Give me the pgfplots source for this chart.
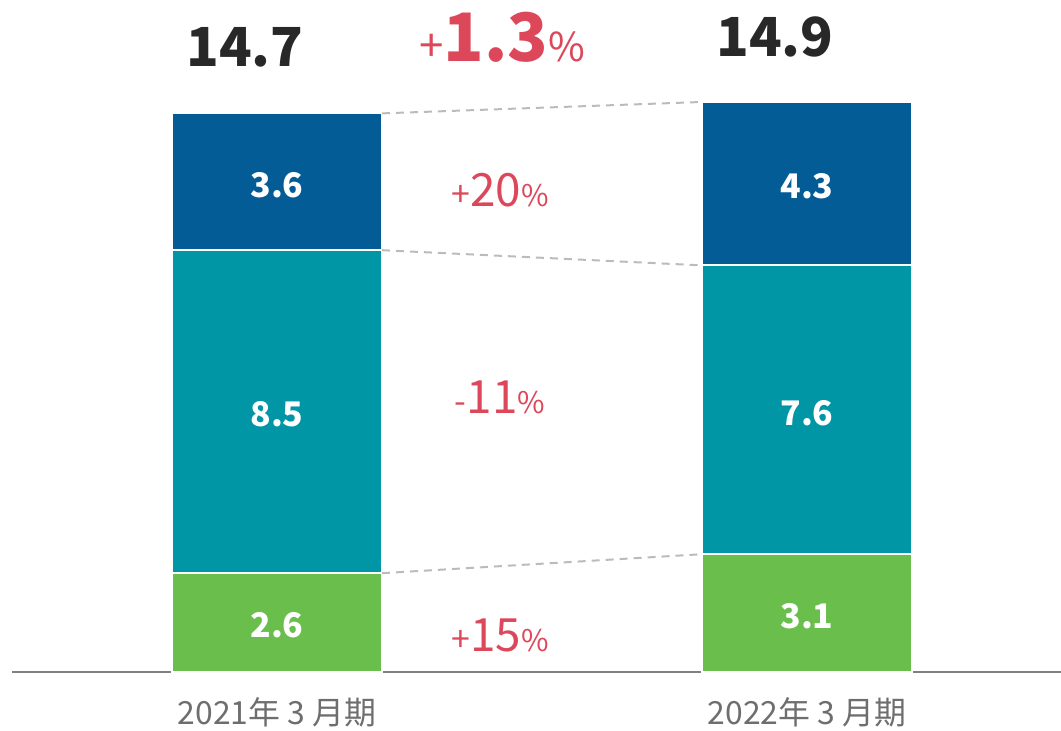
\documentclass[border=0pt]{standalone}
\usepackage{pgfplots}
\pgfplotsset{compat=1.18}
\usepackage{fontspec}
\setmainfont{Noto Sans CJK JP}
\definecolor{cblue}{RGB}{4,92,150}
\definecolor{cteal}{RGB}{0,150,165}
\definecolor{cgreen}{RGB}{106,190,75}
\definecolor{cred}{RGB}{220,72,90}
\definecolor{cdark}{RGB}{40,40,40}
\definecolor{cgray}{RGB}{110,110,110}
\definecolor{cline}{RGB}{128,128,128}
\definecolor{cdash}{RGB}{187,187,187}
\newcommand{\fs}[1]{\fontsize{#1}{#1}\selectfont}
\begin{document}
\begin{tikzpicture}[x=1bp,y=1bp]
\path[use as bounding box] (0,0) rectangle (1061,731);
\pgfplotsset{base/.style={scale only axis, width=1049bp, height=672bp,
  at={(12bp,59bp)}, anchor=south west, xmin=12, xmax=1061,
  ymin=0, ymax=17.6842, clip=false}}
\begin{axis}[base, ybar stacked, bar width=210bp,
  axis y line=none, axis x line*=bottom,
  x axis line style={cline, line width=2bp, -},
  xtick={277,807}, xticklabels={2021年 3 月期, 2022年 3 月期},
  major tick length=0,
  xticklabel style={anchor=base, yshift=-53bp, font=\fs{32}, text=cgray}]
\addplot[fill=cgreen, draw=white, line width=2bp] coordinates {(277,2.6) (807,3.1)};
\addplot[fill=cteal, draw=white, line width=2bp] coordinates {(277,8.5) (807,7.6)};
\addplot[fill=cblue, draw=white, line width=2bp] coordinates {(277,3.6) (807,4.3)};
\end{axis}
\begin{axis}[base, axis lines=none, ticks=none]
\addplot[cdash, line width=2bp, dash pattern=on 8bp off 6bp] coordinates {(382,14.7) (702,15.0)};
\addplot[cdash, line width=2bp, dash pattern=on 8bp off 6bp] coordinates {(382,11.1) (702,10.7)};
\addplot[cdash, line width=2bp, dash pattern=on 8bp off 6bp] coordinates {(382,2.6) (702,3.1)};
\node[text=white, font=\fs{34}\bfseries, yshift=-3bp] at (axis cs:277,1.3) {2.6};
\node[text=white, font=\fs{34}\bfseries, yshift=-3bp] at (axis cs:277,6.85) {8.5};
\node[text=white, font=\fs{34}\bfseries, yshift=-3bp] at (axis cs:277,12.9) {3.6};
\node[text=white, font=\fs{34}\bfseries, yshift=-3bp] at (axis cs:807,1.55) {3.1};
\node[text=white, font=\fs{34}\bfseries, yshift=-3bp] at (axis cs:807,6.9) {7.6};
\node[text=white, font=\fs{34}\bfseries, yshift=-3bp] at (axis cs:807,12.85) {4.3};
\end{axis}
\node[anchor=base, text=cdark, font=\fs{54}\bfseries] at (245,664) {14.7};
\node[anchor=base, text=cdark, font=\fs{54}\bfseries] at (775,674) {14.9};
\node[anchor=base, text=cred, inner sep=0pt] at (502,669) {{\fs{44}+}{\fs{67}\bfseries 1.3}{\fs{40}\%}};
\node[anchor=base, text=cred, inner sep=0pt] at (500,524) {{\fs{34}+}{\fs{46}20}{\fs{30}\%}};
\node[anchor=base, text=cred, inner sep=0pt] at (500,317) {{\fs{34}-}{\fs{46}11}{\fs{30}\%}};
\node[anchor=base, text=cred, inner sep=0pt] at (500,79) {{\fs{34}+}{\fs{46}15}{\fs{30}\%}};
\end{tikzpicture}
\end{document}
